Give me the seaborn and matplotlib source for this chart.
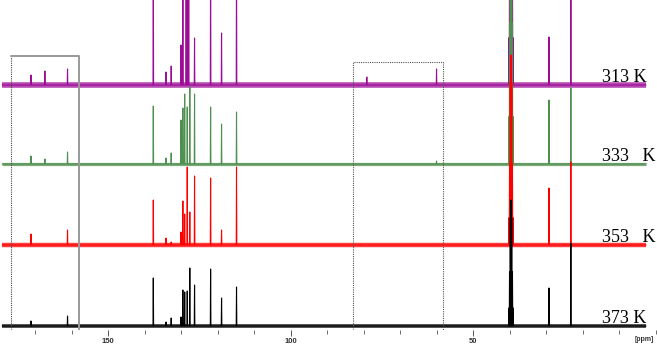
import numpy as np
import pandas as pd
import seaborn as sns
import matplotlib.pyplot as plt
from matplotlib.ticker import MultipleLocator, FixedLocator

# 13C spectra at four temperatures
ppm_start = 179.0
ppm_end = 2.6

peak_ppm = [171.1, 167.3, 161.1, 137.6, 134.1, 132.7, 130.0, 129.5, 129.0, 128.6,
            128.3, 127.9, 127.6, 126.3, 121.9, 118.9, 114.8, 79.1, 60.0, 29.2, 23.2]
int_313 = [10, 14, 16, 140, 13, 19, 40, 140, 0, 140, 140, 140, 0, 47, 140, 52, 140, 8, 16, 48, 140]
int_333 = [8, 5, 12, 58, 6, 11, 44, 56, 70, 0, 57, 0, 77, 70, 57, 40, 52, 0, 3, 64, 76]
int_353 = [11, 0, 15, 45, 7, 3, 13, 44, 31, 0, 78, 0, 33, 69, 67, 15, 78, 0, 0, 57, 83]
int_373 = [5, 0, 10, 48, 4, 8, 9, 36, 34, 0, 35, 0, 58, 41, 57, 28, 39, 0, 0, 38, 83]

# DMSO-d6 septet
solvent_ppm = [40.2, 40.0, 39.8, 39.6, 39.4, 39.2, 39.0]
solvent_shape = [1, 3, 6, 7, 6, 3, 1]
solvent_int = [330, 330, 190, 126]

temps = ['313 K', '333 K', '353 K', '373 K']
temp_labels = ['313 K', '333   K', '353   K', '373 K']
offsets = [245, 166, 85, 4]
colors = ['#9C0C97', '#4F8F4F', '#FF0000', '#000000']
noise_lw = [4.0, 2.3, 3.2, 2.7]

# boxed regions (ppm from, ppm to, top)
box_regions = [(176.6, 158.0, 274), (82.9, 58.2, 268)]

w = 0.08


def spectrum(heights, solv):
    pos = peak_ppm + solvent_ppm
    hts = list(heights) + [solv * s / 7 for s in solvent_shape]
    pts = [(ppm_start, 0.0)]
    for p, h in sorted(zip(pos, hts), reverse=True):
        if h <= 0:
            continue
        pts += [(p + w, 0.0), (p, h), (p - w, 0.0)]
    pts.append((ppm_end, 0.0))
    return pd.DataFrame(pts, columns=['ppm', 'intensity'])


all_int = [int_313, int_333, int_353, int_373]

sns.set_theme(style='white')
plt.rcParams['font.family'] = ['Liberation Sans', 'DejaVu Sans']

fig = plt.figure(figsize=(6.57, 3.5), dpi=100)
ax = fig.add_axes([0, 20 / 350, 1, 330 / 350])

for i, t in enumerate(temps):
    df = spectrum(all_int[i], solvent_int[i])
    df['y'] = df['intensity'] + offsets[i]
    base = pd.DataFrame({'ppm': [ppm_start, ppm_end], 'y': [offsets[i], offsets[i]]})
    sns.lineplot(data=base, x='ppm', y='y', color=colors[i], lw=noise_lw[i],
                 alpha=0.75, estimator=None, sort=False, solid_capstyle='butt', ax=ax)
    sns.lineplot(data=df, x='ppm', y='y', color=colors[i], lw=0.8,
                 estimator=None, sort=False, ax=ax)
    ax.text(14.7, offsets[i] + 3, temp_labels[i], family=['Liberation Serif'],
            fontsize=13, ha='left', va='baseline', color='black')

for j, (a, b, top) in enumerate(box_regions):
    if j == 0:
        ax.plot([a, a], [0, top], color='#444444', lw=0.8, ls=(0, (1, 1)))
        ax.plot([a, b, b], [top, top, 0], color='#999999', lw=1.4)
    else:
        ax.plot([a, a, b, b], [0, top, top, 0], color='#555555', lw=0.8, ls=(0, (1, 1)))

ax.set_xlim(179.6, -0.4)
ax.set_ylim(0, 330)
for s in ax.spines.values():
    s.set_visible(False)
ax.set_yticks([])
ax.xaxis.set_major_locator(FixedLocator([150, 100, 50]))
ax.xaxis.set_minor_locator(MultipleLocator(10))
ax.tick_params(axis='x', which='major', bottom=True, length=4, width=0.7,
               color='#555555', labelsize=5.5, labelcolor='#333333', pad=2)
ax.tick_params(axis='x', which='minor', bottom=True, length=3, width=0.6, color='#555555')
for lab in ax.get_xticklabels():
    lab.set_fontweight('bold')
ax.set_xlabel('')
ax.set_ylabel('')
ax.text(0.98, -0.03, '[ppm]', transform=ax.transAxes, fontsize=5, fontweight='bold',
        color='#333333', ha='center', va='center')

fig.savefig('out.png', dpi=100)
